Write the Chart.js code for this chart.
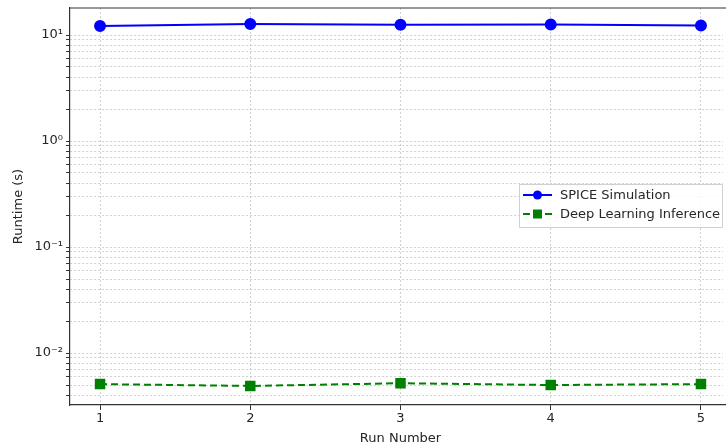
<!DOCTYPE html>
<html>
<head>
<meta charset="utf-8">
<script src="https://cdn.jsdelivr.net/npm/chart.js@4/dist/chart.umd.min.js"></script>
<style>
  html, body { margin: 0; padding: 0; background: #fff; overflow: hidden; }
  #wrap { width: 726px; height: 448px; overflow: hidden; position: relative; }
  #chartCanvas { position: absolute; left: 0; top: 0; }
</style>
</head>
<body>
<div id="wrap"><canvas id="chartCanvas" width="760" height="448"></canvas></div>
<script>
// data
const runs = [1, 2, 3, 4, 5];
const spiceRuntime = [12.2, 12.7, 12.5, 12.6, 12.3];
const dlRuntime = [0.0051, 0.0049, 0.0052, 0.0050, 0.0051];
const seriesLabels = ['SPICE Simulation', 'Deep Learning Inference'];

const textColor = '#262626';
const gridColor = 'rgba(170,170,170,0.55)';
const frameColor = '#333';
const sup = { '-': '⁻', '0': '⁰', '1': '¹', '2': '²', '3': '³' };

function logTicks(min, max) {
    const out = [];
    for (let k = -3; k <= 1; k++) {
        for (let m = 1; m <= 9; m++) {
            const v = m * Math.pow(10, k);
            if (v >= min && v <= max) out.push({ value: v, major: m === 1 });
        }
    }
    return out;
}

// top frame line + legend box inside the plot
const framePlugin = {
    id: 'frame',
    afterDraw(chart) {
        const { ctx, chartArea } = chart;
        ctx.save();
        // keep the window's right edge clean, the right spine is off-screen in the original
        ctx.fillStyle = '#fff';
        ctx.fillRect(723, chartArea.top + 1, 40, chartArea.bottom - chartArea.top - 2);

        ctx.strokeStyle = frameColor;
        ctx.lineWidth = 1.2;
        ctx.beginPath();
        ctx.moveTo(chartArea.left, chartArea.top);
        ctx.lineTo(chartArea.right, chartArea.top);
        ctx.stroke();

        const bx = 519, by = 184, bw = 203, bh = 43;
        ctx.fillStyle = 'rgba(255,255,255,0.85)';
        ctx.strokeStyle = '#d0d0d0';
        ctx.lineWidth = 1;
        ctx.beginPath();
        ctx.rect(bx + 0.5, by + 0.5, bw, bh);
        ctx.fill();
        ctx.stroke();

        ctx.font = '13px "DejaVu Sans"';
        ctx.textBaseline = 'middle';
        ctx.textAlign = 'left';
        chart.data.datasets.forEach((ds, i) => {
            const y = by + 11 + i * 19;
            ctx.strokeStyle = ds.borderColor;
            ctx.lineWidth = 2;
            ctx.setLineDash(ds.borderDash || []);
            ctx.beginPath();
            ctx.moveTo(bx + 4, y);
            ctx.lineTo(bx + 33, y);
            ctx.stroke();
            ctx.setLineDash([]);
            ctx.fillStyle = ds.pointBackgroundColor;
            if (ds.pointStyle === 'rect') {
                ctx.fillRect(bx + 14, y - 4.5, 9, 9);
            } else {
                ctx.beginPath();
                ctx.arc(bx + 18.5, y, 4.5, 0, Math.PI * 2);
                ctx.fill();
            }
            ctx.fillStyle = textColor;
            ctx.fillText(ds.label, bx + 41, y + 1);
        });
        ctx.restore();
    }
};

const ctx = document.getElementById('chartCanvas').getContext('2d');
new Chart(ctx, {
    type: 'line',
    data: {
        datasets: [
            {
                label: seriesLabels[0],
                data: runs.map((r, i) => ({ x: r, y: spiceRuntime[i] })),
                borderColor: '#0000ff',
                pointBackgroundColor: '#0000ff',
                pointBorderColor: '#0000ff',
                borderWidth: 2,
                pointRadius: 5
            },
            {
                label: seriesLabels[1],
                data: runs.map((r, i) => ({ x: r, y: dlRuntime[i] })),
                borderColor: '#008000',
                pointBackgroundColor: '#008000',
                pointBorderColor: '#008000',
                borderWidth: 2,
                borderDash: [7, 4],
                pointStyle: 'rect',
                pointRadius: 6
            }
        ]
    },
    options: {
        responsive: false,
        animation: false,
        layout: { padding: { top: 6, right: 29, left: 0, bottom: 0 } },
        scales: {
            x: {
                type: 'linear', min: 0.8, max: 5.2,
                afterBuildTicks: s => { s.ticks = runs.map(v => ({ value: v })); },
                afterFit: s => { s.height = 43; s.paddingLeft = 0; s.paddingRight = 0; },
                ticks: {
                    color: textColor,
                    font: { family: '"DejaVu Sans"', size: 13 },
                    padding: 1,
                    maxRotation: 0,
                    callback: v => String(v)
                },
                grid: { color: gridColor, lineWidth: 1, tickLength: 5, tickColor: frameColor },
                border: { color: frameColor, width: 1.2, dash: [2, 2] },
                title: {
                    display: true,
                    text: 'Run Number',
                    color: textColor,
                    font: { family: '"DejaVu Sans"', size: 13 },
                    padding: { top: 0, bottom: 2 }
                }
            },
            y: {
                type: 'logarithmic', min: 0.00324, max: 18.0,
                afterBuildTicks: s => { s.ticks = logTicks(0.00324, 18.0); },
                afterFit: s => { s.width = 70; s.paddingTop = 0; s.paddingBottom = 0; },
                ticks: {
                    autoSkip: false,
                    color: textColor,
                    font: { family: '"DejaVu Sans"', size: 13 },
                    padding: 3,
                    callback: function (v) {
                        const e = Math.log10(v);
                        if (Math.abs(e - Math.round(e)) > 1e-9) return '';
                        return '10' + String(Math.round(e)).split('').map(c => sup[c]).join('');
                    }
                },
                grid: { color: gridColor, lineWidth: 1, tickLength: 4, tickColor: frameColor },
                border: { color: frameColor, width: 1.2, dash: [2, 2] },
                title: {
                    display: true,
                    text: 'Runtime (s)',
                    color: textColor,
                    font: { family: '"DejaVu Sans"', size: 13 },
                    padding: { top: 11, bottom: 4 }
                }
            }
        },
        plugins: { legend: { display: false }, tooltip: { enabled: false } }
    },
    plugins: [framePlugin]
});
</script>
</body>
</html>
